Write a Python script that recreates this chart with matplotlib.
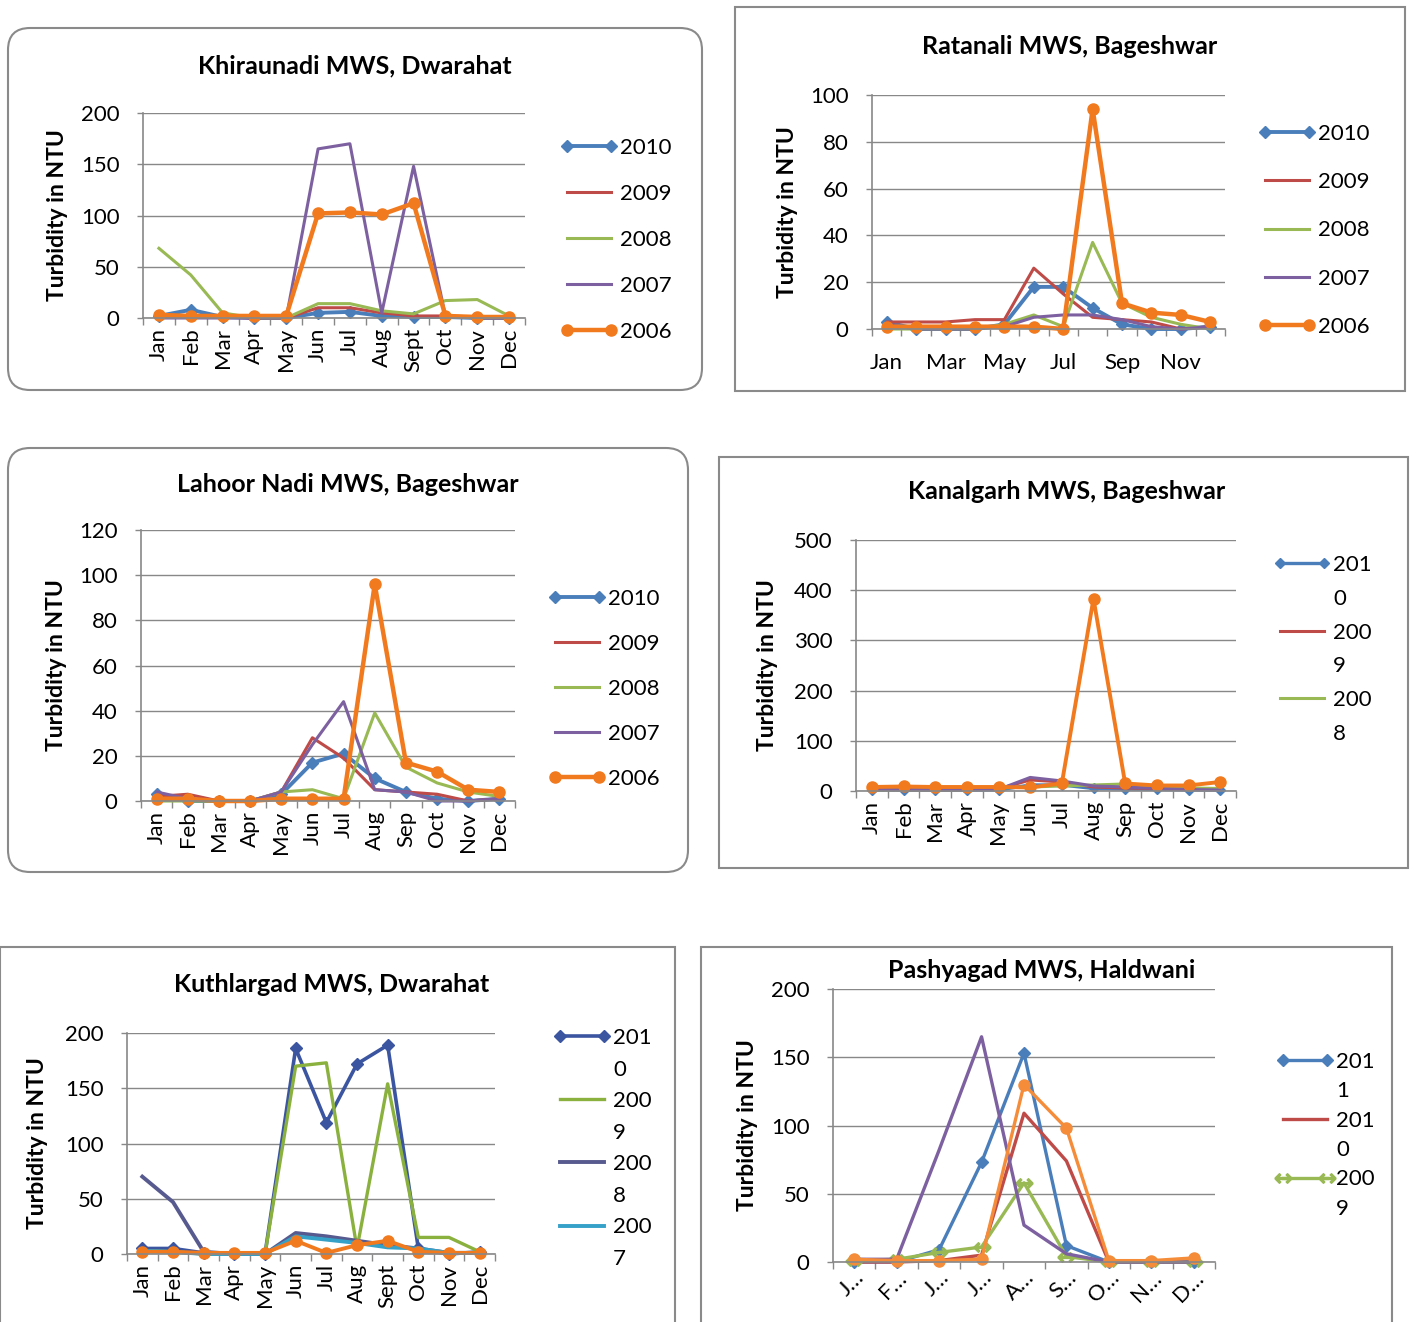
import matplotlib
matplotlib.use('Agg')
import matplotlib.pyplot as plt
from matplotlib.patches import FancyBboxPatch
from matplotlib.lines import Line2D

plt.rcParams['font.family'] = ['Lato', 'DejaVu Sans']

# ── data ──────────────────────────────────────────────────────────────
months = ['Jan', 'Feb', 'Mar', 'Apr', 'May', 'Jun', 'Jul', 'Aug', 'Sep', 'Oct', 'Nov', 'Dec']
months_sept = ['Jan', 'Feb', 'Mar', 'Apr', 'May', 'Jun', 'Jul', 'Aug', 'Sept', 'Oct', 'Nov', 'Dec']
months_short = ['J\u2026', 'F\u2026', 'J\u2026', 'J\u2026', 'A\u2026', 'S\u2026', 'O\u2026', 'N\u2026', 'D\u2026']

kh_2010 = [2, 8, 1, 0, 0, 5, 6, 2, 1, 1, 0, 0]
kh_2009 = [3, 2, 1, 0, 0, 10, 10, 5, 2, 2, 1, 1]
kh_2008 = [68, 42, 5, 0, 0, 14, 14, 7, 4, 17, 18, 2]
kh_2007 = [0, 0, 0, 0, 0, 165, 170, 5, 148, 2, 0, 0]
kh_2006 = [3, 2, 2, 2, 2, 102, 103, 101, 112, 2, 1, 1]

ra_2010 = [3, 0, 0, 0, 2, 18, 18, 9, 2, 0, 0, 1]
ra_2009 = [3, 3, 3, 4, 4, 26, 15, 5, 4, 3, 0, 1]
ra_2008 = [0, 0, 0, 0, 2, 6, 1, 37, 11, 5, 2, 0]
ra_2007 = [2, 0, 0, 0, 1, 5, 6, 6, 4, 1, 0, 1]
ra_2006 = [1, 1, 1, 1, 1, 1, 0, 94, 11, 7, 6, 3]

la_2010 = [3, 0, 0, 0, 3, 17, 21, 10, 4, 1, 0, 1]
la_2009 = [2, 3, 0, 0, 4, 28, 19, 5, 4, 3, 0, 1]
la_2008 = [0, 0, 0, 0, 4, 5, 1, 39, 15, 8, 4, 2]
la_2007 = [4, 1, 0, 0, 4, 25, 44, 5, 4, 0, 0, 1]
la_2006 = [1, 1, 0, 0, 1, 1, 1, 96, 17, 13, 5, 4]

ka_2010 = [2, 2, 2, 2, 2, 12, 12, 5, 4, 3, 2, 2]
ka_2009 = [3, 3, 3, 3, 4, 22, 18, 8, 6, 5, 3, 3]
ka_2008 = [2, 2, 2, 2, 6, 8, 10, 12, 14, 8, 6, 5]
ka_2007 = [3, 2, 2, 2, 3, 27, 20, 10, 8, 5, 3, 2]
ka_2006 = [8, 9, 8, 8, 8, 7, 15, 383, 15, 11, 11, 18]

ku_2010 = [5, 5, 1, 0, 0, 186, 119, 172, 189, 5, 0, 2]
ku_2009 = [3, 2, 0, 0, 0, 170, 173, 5, 154, 15, 15, 2]
ku_2008 = [70, 47, 2, 0, 0, 19, 16, 12, 8, 5, 1, 1]
ku_2007 = [3, 2, 0, 0, 0, 16, 13, 10, 6, 5, 1, 1]
ku_2006 = [2, 2, 1, 1, 1, 12, 1, 8, 12, 2, 1, 1]

pa_2011 = [0, 0, 9, 73, 153, 12, 0, 0, 0]
pa_2010 = [0, 0, 1, 5, 109, 74, 0, 0, 0]
pa_2009 = [1, 2, 7, 11, 58, 4, 0, 0, 0]
pa_2008 = [2, 2, 82, 165, 27, 6, 0, 0, 0]
pa_2007 = [2, 1, 1, 2, 130, 98, 1, 1, 3]

# colours
c_blue = '#4A7EBB'
c_red = '#BE4B48'
c_green = '#98B954'
c_purple = '#7D60A0'
c_orange = '#F27A1E'
c_lorange = '#F58C3A'
c_dblue = '#3B55A0'
c_olive = '#8AB13E'
c_slate = '#575A8E'
c_teal = '#35A0C8'
grid_col = '#888888'

W, H = 1416, 1322
fig = plt.figure(figsize=(W / 100, H / 100), dpi=100, facecolor='white')


def pt(x, y):
    return x / W, 1 - y / H


def box(x0, y0, x1, y1):
    return [x0 / W, 1 - y1 / H, (x1 - x0) / W, (y1 - y0) / H]


def frame(x0, y0, x1, y1, rounded=False):
    style = 'round,pad=0,rounding_size=0.22' if rounded else 'square,pad=0'
    p = FancyBboxPatch((x0 / 100, (H - y1) / 100), (x1 - x0) / 100, (y1 - y0) / 100,
                       boxstyle=style, transform=fig.dpi_scale_trans,
                       fill=False, edgecolor='#8a8a8a', lw=1.5)
    fig.add_artist(p)


def panel(rect, title, title_xy, ylab_xy, ymax, ystep, cats, rot=90, every=1):
    ax = fig.add_axes(box(*rect))
    n = len(cats)
    ax.set_xlim(0.5, n + 0.5)
    ax.set_ylim(0, ymax)
    ax.set_yticks(range(0, ymax + 1, ystep))
    ax.set_xticks(list(range(1, n + 1))[::every])
    if rot == 45:
        ax.set_xticklabels(cats[::every], rotation=45, ha='right', rotation_mode='anchor')
    else:
        ax.set_xticklabels(cats[::every], rotation=rot)
    ax.set_xticks([i + 0.5 for i in range(n + 1)], minor=True)
    ax.tick_params(axis='x', which='major', length=0, pad=7, labelsize=16)
    ax.tick_params(axis='x', which='minor', length=5, color=grid_col, width=1)
    ax.tick_params(axis='y', length=4, color=grid_col, width=1, pad=13, labelsize=16)
    ax.grid(axis='y', color=grid_col, lw=1)
    ax.set_axisbelow(True)
    for s in ['top', 'right']:
        ax.spines[s].set_visible(False)
    for s in ['left', 'bottom']:
        ax.spines[s].set_color(grid_col)
        ax.spines[s].set_linewidth(1.2)
    fig.text(*pt(*title_xy), title, ha='center', va='center', fontsize=18, fontweight='bold')
    fig.text(*pt(*ylab_xy), 'Turbidity in NTU', rotation=90, ha='center', va='center',
             fontsize=16.5, fontweight='bold')
    return ax


def series(ax, y, color, label, lw=2.0, marker=None, ms=0):
    x = list(range(1, len(y) + 1))
    line, = ax.plot(x, y, color=color, lw=lw, marker=marker, ms=ms, label=label,
                    clip_on=False, solid_joinstyle='round')
    return line


def legend(ax, handles, labels, xy, spacing):
    ax.legend(handles=handles, labels=labels, loc='upper left', bbox_to_anchor=pt(*xy),
              bbox_transform=fig.transFigure, frameon=False, fontsize=16, numpoints=2,
              handlelength=2.6, handletextpad=0.1, labelspacing=spacing,
              borderpad=0, borderaxespad=0)


def wrapped(handles, labels):
    # Excel wraps the narrow legend labels onto a second line
    blank = Line2D([], [], color='none')
    hh, ll = [], []
    for hd, lb in zip(handles, labels):
        hh += [hd, blank]
        ll += [lb[:-1], lb[-1]]
    return hh, ll


# ── 1. Khiraunadi ────────────────────────────────────────────────────
frame(8, 28, 702, 390, rounded=True)
ax1 = panel((143, 113, 525, 318), 'Khiraunadi MWS, Dwarahat', (355, 66), (58, 215),
            200, 50, months_sept)
h = [series(ax1, kh_2010, c_blue, '2010', lw=2.8, marker='D', ms=6),
     series(ax1, kh_2009, c_red, '2009', lw=2.2),
     series(ax1, kh_2008, c_green, '2008', lw=2.2),
     series(ax1, kh_2007, c_purple, '2007', lw=2.2),
     series(ax1, kh_2006, c_orange, '2006', lw=3.2, marker='o', ms=8)]
legend(ax1, h, ['2010', '2009', '2008', '2007', '2006'], (560, 138), 1.17)

# ── 2. Ratanali ──────────────────────────────────────────────────────
frame(735, 7, 1405, 391)
ax2 = panel((872, 95, 1225, 329), 'Ratanali MWS, Bageshwar', (1070, 46), (787, 212),
            100, 20, months, rot=0, every=2)
ax2.tick_params(axis='x', which='major', pad=17)
h = [series(ax2, ra_2010, c_blue, '2010', lw=2.8, marker='D', ms=6),
     series(ax2, ra_2009, c_red, '2009', lw=2.2),
     series(ax2, ra_2008, c_green, '2008', lw=2.2),
     series(ax2, ra_2007, c_purple, '2007', lw=2.2),
     series(ax2, ra_2006, c_orange, '2006', lw=3.2, marker='o', ms=8)]
legend(ax2, h, ['2010', '2009', '2008', '2007', '2006'], (1258, 124), 1.27)

# ── 3. Lahoor Nadi ───────────────────────────────────────────────────
frame(8, 448, 688, 872, rounded=True)
ax3 = panel((141, 530, 515, 801), 'Lahoor Nadi MWS, Bageshwar', (348, 485), (57, 665),
            120, 20, months)
h = [series(ax3, la_2010, c_blue, '2010', lw=2.8, marker='D', ms=6),
     series(ax3, la_2009, c_red, '2009', lw=2.2),
     series(ax3, la_2008, c_green, '2008', lw=2.2),
     series(ax3, la_2007, c_purple, '2007', lw=2.2),
     series(ax3, la_2006, c_orange, '2006', lw=3.2, marker='o', ms=8)]
legend(ax3, h, ['2010', '2009', '2008', '2007', '2006'], (548, 589), 1.12)

# ── 4. Kanalgarh ─────────────────────────────────────────────────────
frame(719, 457, 1408, 868)
ax4 = panel((856, 540, 1236, 791), 'Kanalgarh MWS, Bageshwar', (1067, 491), (768, 665),
            500, 100, months)
h = [series(ax4, ka_2010, c_blue, '2010', lw=2.4, marker='D', ms=5),
     series(ax4, ka_2009, c_red, '2009', lw=2.2),
     series(ax4, ka_2008, c_green, '2008', lw=2.2),
     series(ax4, ka_2007, c_purple, '2007', lw=2.2),
     series(ax4, ka_2006, c_orange, '2006', lw=2.8, marker='o', ms=8)]
legend(ax4, *wrapped(h[:3], ['2010', '2009', '2008']), (1273, 555), 0.62)

# ── 5. Kuthlargad ────────────────────────────────────────────────────
frame(0, 947, 675, 1330)
ax5 = panel((127, 1033, 495, 1254), 'Kuthlargad MWS, Dwarahat', (332, 984), (38, 1143),
            200, 50, months_sept)
h = [series(ax5, ku_2010, c_dblue, '2010', lw=2.6, marker='D', ms=6),
     series(ax5, ku_2009, c_olive, '2009', lw=2.4),
     series(ax5, ku_2008, c_slate, '2008', lw=2.8),
     series(ax5, ku_2007, c_teal, '2007', lw=2.8),
     series(ax5, ku_2006, c_orange, '2006', lw=2.8, marker='o', ms=8)]
legend(ax5, *wrapped(h[:4], ['2010', '2009', '2008', '2007']), (553, 1028), 0.52)

# ── 6. Pashyagad ─────────────────────────────────────────────────────
frame(701, 947, 1392, 1330)
ax6 = panel((833, 989, 1215, 1262), 'Pashyagad MWS, Haldwani', (1042, 970), (748, 1125),
            200, 50, months_short, rot=45)
ax6.tick_params(axis='x', which='major', pad=4)
h = [series(ax6, pa_2011, c_blue, '2011', lw=2.4, marker='D', ms=6),
     series(ax6, pa_2010, c_red, '2010', lw=2.4),
     series(ax6, pa_2009, c_green, '2009', lw=2.4, marker=r'$\leftrightarrow$', ms=12),
     series(ax6, pa_2008, c_purple, '2008', lw=2.4),
     series(ax6, pa_2007, c_lorange, '2007', lw=2.4, marker='o', ms=8)]
legend(ax6, *wrapped(h[:3], ['2011', '2010', '2009']), (1276, 1052), 0.42)

plt.savefig('out.png', dpi=100, facecolor='white')
plt.close()
